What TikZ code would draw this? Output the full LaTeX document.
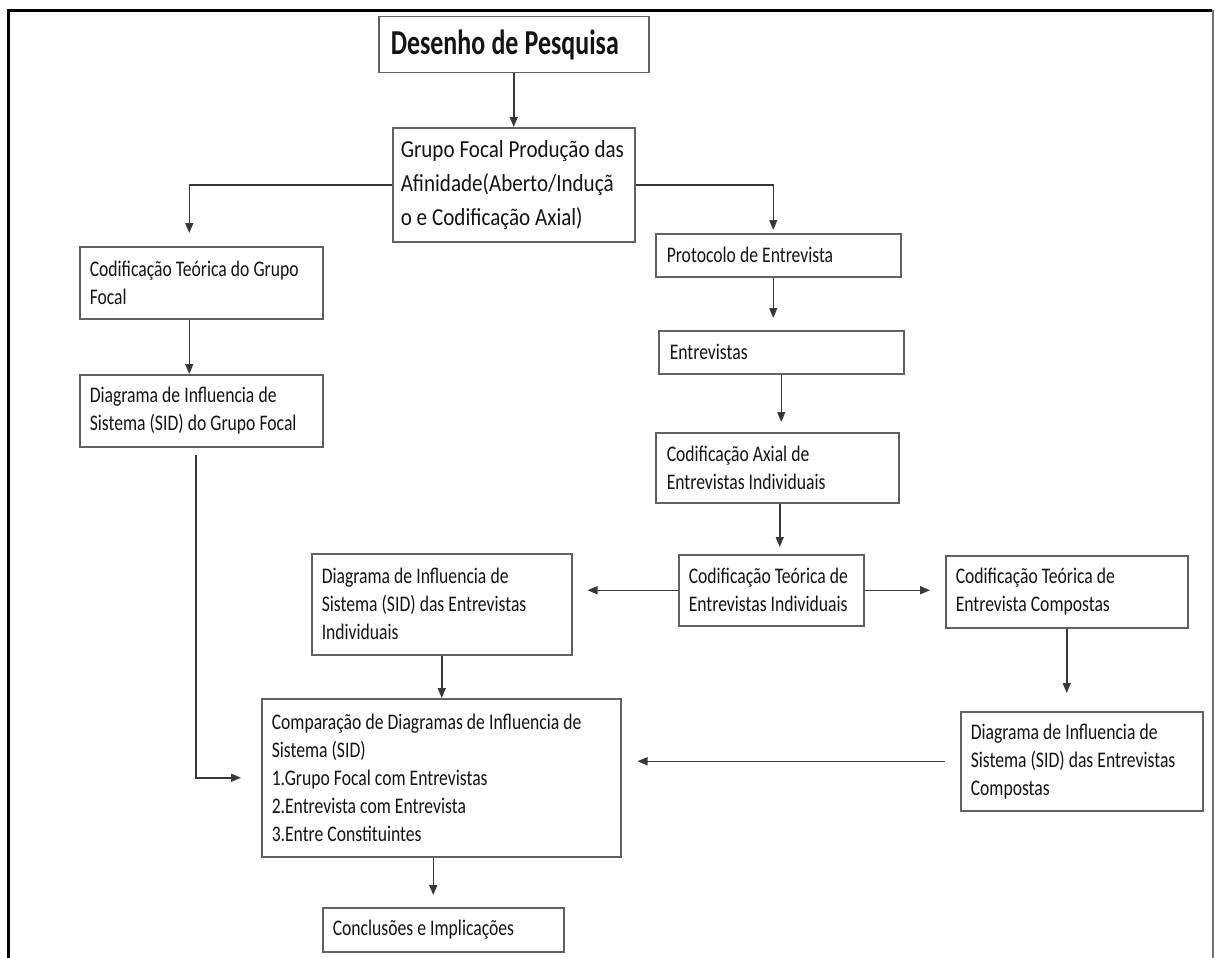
\documentclass[tikz,border=0pt]{standalone}
\usepackage{fontspec}
\setmainfont{Carlito}[FakeStretch=0.79]
\newfontfamily\grupofont{Carlito}[FakeStretch=0.86]
\newfontfamily\titlefont{Carlito}[FakeStretch=0.74]
\usetikzlibrary{arrows.meta,calc}
\begin{document}
\begin{tikzpicture}[x=1pt,y=-1pt,
  box/.style={draw=black!62, line width=1.5pt, fill=white, anchor=north west,
    inner xsep=10pt, inner ysep=0pt, align=left, text=black!92,
    font=\fontsize{22.3}{28}\selectfont, execute at begin node={\spaceskip=4.1pt\relax}},
  arr/.style={draw=black!78, line width=1.5pt, -{Triangle[length=10pt,width=8pt]}},
  frameline/.style={line width=3pt, black},
]
\useasboundingbox (0,0) rectangle (1215,958);
\draw[frameline] (8,958) -- (8,11) -- (1212,11);
\draw[black!55, line width=2pt] (1213,10) -- (1213,958);

\node[box, text width=246pt, minimum height=56pt, inner xsep=12pt,
  font=\titlefont\bfseries\fontsize{35}{40}\selectfont,
  execute at begin node={\spaceskip=6.3pt\relax}] (title) at (378,16) {\mbox{Desenho de Pesquisa}};
\node[box, text width=226pt, minimum height=114pt, inner xsep=8pt,
  font=\grupofont\fontsize{24.5}{34}\selectfont, execute at begin node={\spaceskip=4.9pt\relax}] (grupo) at (392,127)
  {\mbox{Grupo Focal Produção das}\\\mbox{Afinidade(Aberto/Induçã}\\\mbox{o e Codificação Axial)}};
\node[box, text width=223pt, minimum height=72pt] (codGF) at (79,246)
  {\mbox{Codificação Teórica do Grupo}\\\mbox{Focal}};
\node[box, text width=223pt, minimum height=72pt] (diagGF) at (79,374)
  {\mbox{Diagrama de Influencia de}\\\mbox{Sistema (SID) do Grupo Focal}};
\node[box, text width=223pt, minimum height=43pt, inner xsep=11pt] (prot) at (655,233)
  {\mbox{Protocolo de Entrevista}};
\node[box, text width=223pt, minimum height=43pt, inner xsep=11pt] (entr) at (658,330)
  {\mbox{Entrevistas}};
\node[box, text width=221pt, minimum height=70pt, inner xsep=11pt] (axial) at (655,432)
  {\mbox{Codificação Axial de}\\\mbox{Entrevistas Individuais}};
\node[box, text width=165pt, minimum height=71pt] (ctIndiv) at (678,554)
  {\mbox{Codificação Teórica de}\\\mbox{Entrevistas Individuais}};
\node[box, text width=240pt, minimum height=101pt] (diagIndiv) at (311,553)
  {\mbox{Diagrama de Influencia de}\\\mbox{Sistema (SID) das Entrevistas}\\\mbox{Individuais}};
\node[box, text width=222pt, minimum height=72pt] (ctComp) at (945,555)
  {\mbox{Codificação Teórica de}\\\mbox{Entrevista Compostas}};
\node[box, text width=222pt, minimum height=99pt] (diagComp) at (960,711)
  {\mbox{Diagrama de Influencia de}\\\mbox{Sistema (SID) das Entrevistas}\\\mbox{Compostas}};
\node[box, text width=339pt, minimum height=158pt] (comp) at (261,698)
  {\mbox{Comparação de Diagramas de Influencia de}\\\mbox{Sistema (SID)}\\\mbox{1.Grupo Focal com Entrevistas}\\\mbox{2.Entrevista com Entrevista}\\\mbox{3.Entre Constituintes}};
\node[box, text width=221pt, minimum height=44pt] (concl) at (322,907)
  {\mbox{Conclusões e Implicações}};

\draw[arr] (title.south) -- (grupo.north);
\draw[arr, shorten >=13pt] (grupo.west) -| ([xshift=-12pt]codGF.north);
\draw[arr, shorten >=3pt] (grupo.east) -| ([xshift=-5pt]prot.north);
\draw[arr] ([xshift=-12pt]codGF.south) -- ([xshift=-12pt]diagGF.north);
\draw[arr] ([xshift=-5.5pt,yshift=-7pt]diagGF.south) |- ([xshift=-20pt]comp.west);
\draw[arr, shorten >=12pt] ([xshift=-5pt]prot.south) -- ([xshift=-5pt]prot.south |- entr.north);
\draw[arr, shorten >=10pt] (entr.south) -- (entr.south |- axial.north);
\draw[arr, shorten >=7pt] ([xshift=2.5pt]axial.south) -- ([xshift=2.5pt]axial.south |- ctIndiv.north);
\draw[arr, shorten >=15pt] (ctIndiv.west) -- (ctIndiv.west -| diagIndiv.east);
\draw[arr, shorten >=15pt] (ctIndiv.east) -- (ctIndiv.east -| ctComp.west);
\draw[arr] (diagIndiv.south) -- (diagIndiv.south |- comp.north);
\draw[arr, shorten >=18pt] (ctComp.south) -- (ctComp.south |- diagComp.north);
\draw[arr, shorten >=16pt] ([xshift=-15pt]diagComp.west) -- (diagComp.west -| comp.east);
\draw[arr, shorten >=12pt] ([xshift=-8pt]comp.south) -- ([xshift=-8pt]comp.south |- concl.north);
\end{tikzpicture}
\end{document}
